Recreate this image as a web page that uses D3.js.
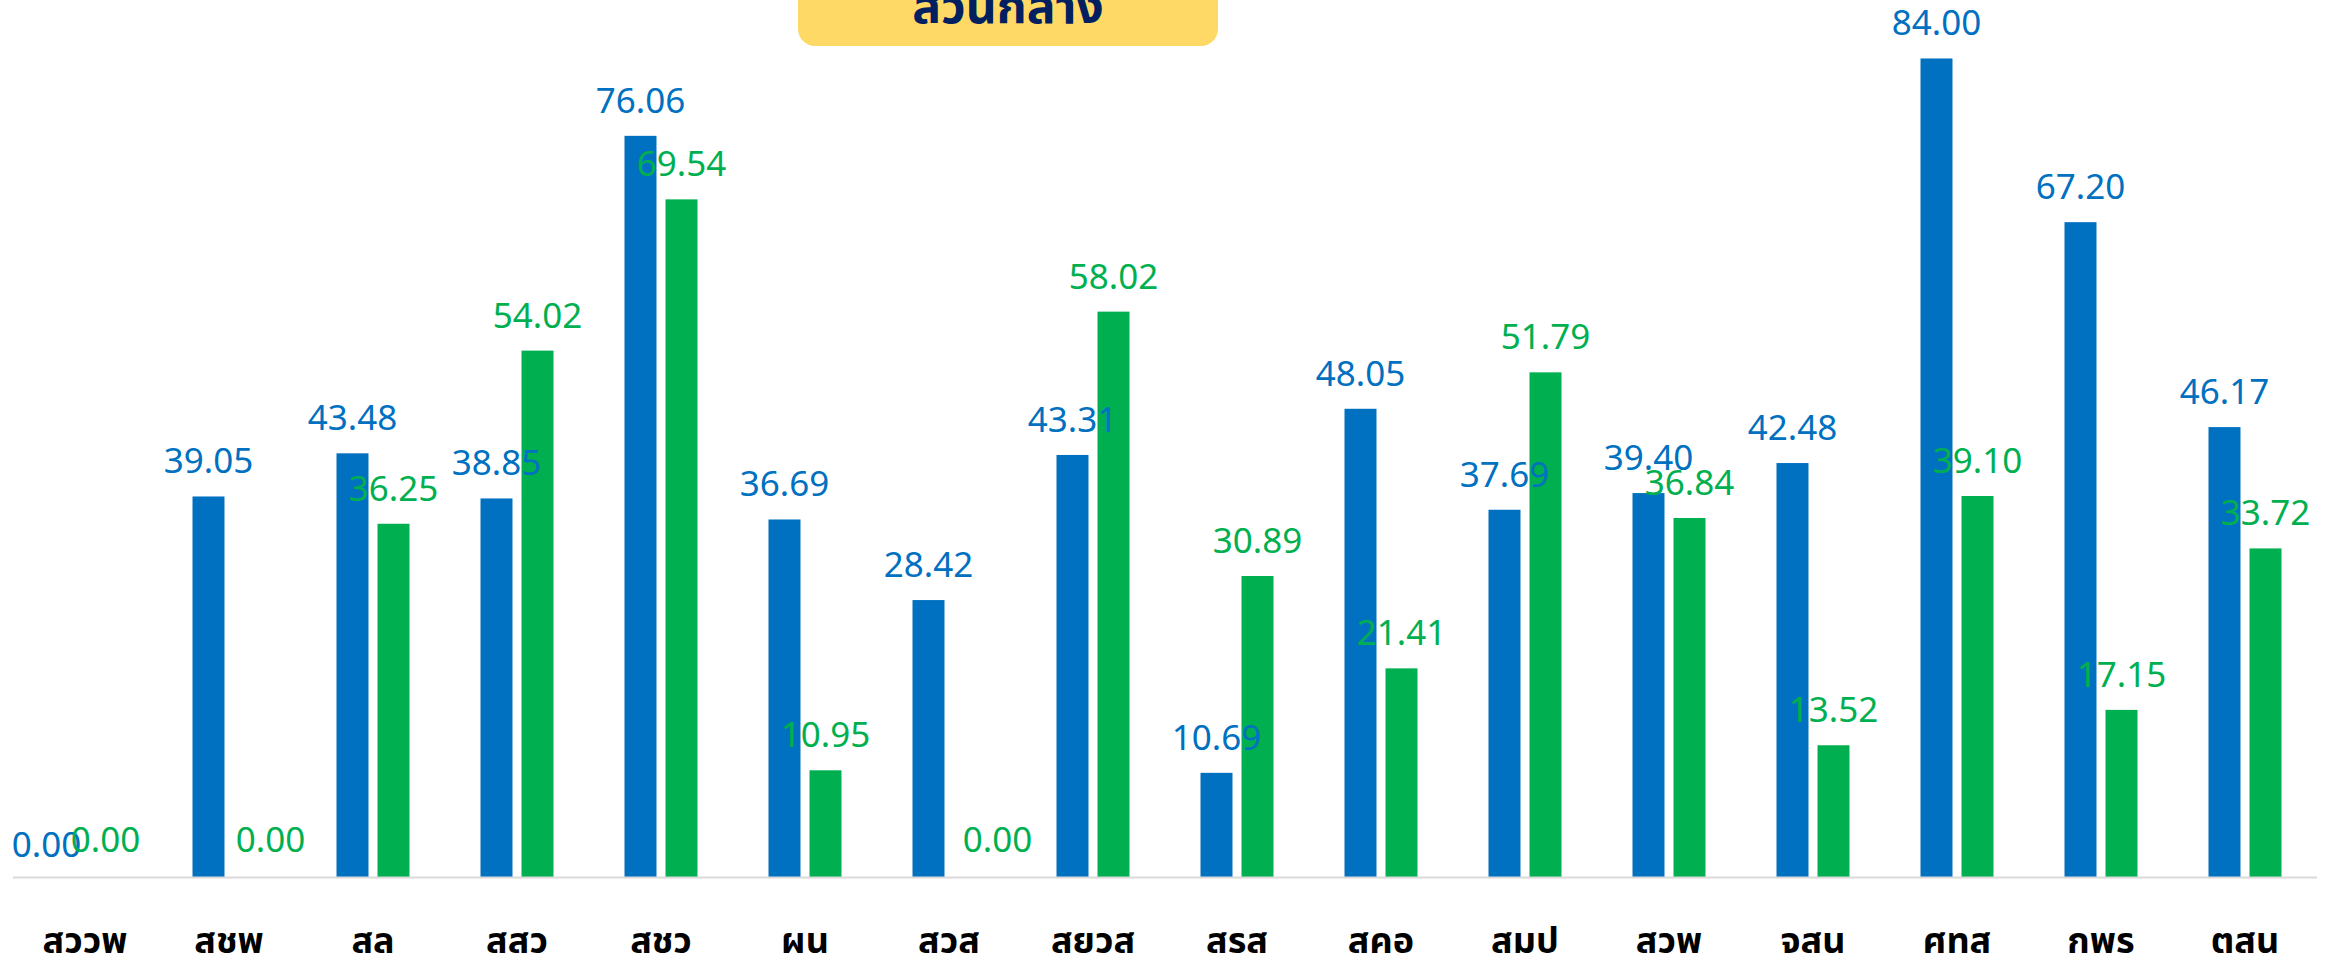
<!DOCTYPE html>
<html>
<head>
<meta charset="utf-8">
<script src="https://cdn.jsdelivr.net/npm/d3@7/dist/d3.min.js"></script>
<style>
  html, body { margin: 0; padding: 0; background: #fff; }
  svg { display: block; }
  .value { font-family: "Noto Sans", "Open Sans", sans-serif; font-size: 35px; }
  .cat { font-family: "Noto Sans Thai", "Leelawadee UI", "Noto Sans", sans-serif; font-size: 36px; font-weight: bold; fill: #000; }
  .title { font-family: "Noto Sans Thai", "Leelawadee UI", "Noto Sans", sans-serif; font-size: 48px; font-weight: bold; fill: #002060; }
</style>
</head>
<body>
<svg id="chart" width="2331" height="961"></svg>
<script>
// chart values
var categories = ["สววพ", "สชพ", "สล", "สสว", "สชว", "ผน", "สวส", "สยวส", "สรส", "สคอ", "สมป", "สวพ", "จสน", "ศทส", "กพร", "ตสน"];
var blueValues = [0.00, 39.05, 43.48, 38.85, 76.06, 36.69, 28.42, 43.31, 10.69, 48.05, 37.69, 39.40, 42.48, 84.00, 67.20, 46.17];
var greenValues = [0.00, 0.00, 36.25, 54.02, 69.54, 10.95, 0.00, 58.02, 30.89, 21.41, 51.79, 36.84, 13.52, 39.10, 17.15, 33.72];
var titleText = "ส่วนกลาง";

// label tweaks (moved by hand in the original)
var labelNudge = {
  "blue|0": { dx: -18, dy: 5 },
  "green|1": { dx: 21, dy: 0 },
  "green|6": { dx: 28, dy: 0 }
};

var colors = { blue: "#0070C0", green: "#00B050" };

var svg = d3.select("#chart");
var width = +svg.attr("width"),
    height = +svg.attr("height");

var left = 13, right = 2317, baseline = 877;

var x0 = d3.scaleBand()
  .domain(d3.range(categories.length))
  .range([left, right])
  .padding(0);

var x1 = d3.scaleBand()
  .domain(["blue", "green"])
  .range([0, x0.bandwidth()])
  .paddingInner(0.22)
  .paddingOuter(0.866);

var y = d3.scaleLinear()
  .domain([0, 90])
  .range([baseline, 0]);

var rows = categories.map(function(c, i) {
  return { i: i, cat: c, values: [
    { key: "blue", value: blueValues[i] },
    { key: "green", value: greenValues[i] }
  ]};
});

// title box
var titleG = svg.append("g");
titleG.append("rect")
  .attr("x", 798).attr("y", -40)
  .attr("width", 420).attr("height", 86)
  .attr("rx", 17).attr("ry", 17)
  .attr("fill", "#FFD966");
titleG.append("text")
  .attr("class", "title")
  .attr("x", 1008).attr("y", 23)
  .attr("text-anchor", "middle")
  .text(titleText);

// bars
var groups = svg.selectAll(".group")
  .data(rows)
  .enter().append("g")
    .attr("class", "group")
    .attr("transform", function(d) { return "translate(" + x0(d.i) + ",0)"; });

groups.selectAll("rect")
  .data(function(d) { return d.values; })
  .enter().append("rect")
    .attr("x", function(d) { return x1(d.key); })
    .attr("y", function(d) { return y(d.value); })
    .attr("width", x1.bandwidth())
    .attr("height", function(d) { return baseline - y(d.value); })
    .attr("fill", function(d) { return colors[d.key]; });

// axis line
svg.append("line")
  .attr("x1", left).attr("x2", right)
  .attr("y1", baseline + 0.5).attr("y2", baseline + 0.5)
  .attr("stroke", "#D9D9D9")
  .attr("stroke-width", 2);

// value labels (drawn on top of all bars)
var labels = svg.append("g");
rows.forEach(function(r) {
  r.values.forEach(function(v) {
    var n = labelNudge[v.key + "|" + r.i] || { dx: 0, dy: 0 };
    var gap = v.value === 0 ? 25 : 23;
    labels.append("text")
      .attr("class", "value")
      .attr("x", x0(r.i) + x1(v.key) + x1.bandwidth() / 2 + n.dx)
      .attr("y", y(v.value) - gap + n.dy)
      .attr("text-anchor", "middle")
      .attr("fill", colors[v.key])
      .text(v.value.toFixed(2));
  });
});

// category labels
svg.append("g")
  .selectAll("text")
  .data(rows)
  .enter().append("text")
    .attr("class", "cat")
    .attr("x", function(d) { return x0(d.i) + x0.bandwidth() / 2; })
    .attr("y", 953)
    .attr("text-anchor", "middle")
    .text(function(d) { return d.cat; });
</script>
</body>
</html>
